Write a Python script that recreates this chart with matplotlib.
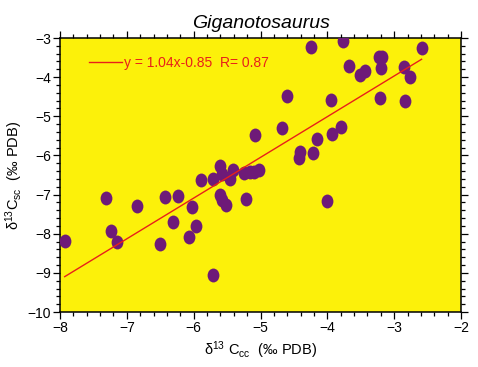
import numpy as np
import matplotlib
matplotlib.use('Agg')
import matplotlib.pyplot as plt
from matplotlib.path import Path
from matplotlib.transforms import Affine2D
from matplotlib.ticker import MultipleLocator

plt.rcParams['font.family'] = ['Liberation Sans', 'DejaVu Sans']
plt.rcParams['mathtext.fontset'] = 'custom'
plt.rcParams['mathtext.rm'] = 'Liberation Sans'
plt.rcParams['mathtext.it'] = 'Liberation Sans:italic'

# d13C of carbonate (x) vs structural carbonate (y)
d13c_cc = [-7.93, -7.31, -7.24, -7.14, -6.85, -6.50, -6.43, -6.31, -6.24, -6.07,
           -6.03, -5.97, -5.89, -5.71, -5.71, -5.61, -5.57, -5.61, -5.58, -5.52,
           -5.46, -5.41, -5.24, -5.21, -5.16, -5.10, -5.02, -5.08, -4.68, -4.61,
           -4.43, -4.41, -4.25, -4.22, -4.16, -4.01, -3.95, -3.93, -3.80, -3.76,
           -3.68, -3.51, -3.44, -3.23, -3.20, -3.21, -3.18, -2.86, -2.84, -2.76,
           -2.59]
d13c_sc = [-8.18, -7.10, -7.92, -8.20, -7.28, -8.26, -7.06, -7.69, -7.04, -8.09,
           -7.31, -7.80, -6.63, -9.05, -6.61, -6.26, -6.47, -7.01, -7.14, -7.27,
           -6.61, -6.37, -6.44, -7.12, -6.42, -6.42, -6.37, -5.48, -5.31, -4.48,
           -6.07, -5.92, -3.22, -5.93, -5.59, -7.16, -4.58, -5.45, -5.27, -3.07,
           -3.71, -3.95, -3.84, -3.48, -3.76, -4.53, -3.48, -3.73, -4.60, -4.00,
           -3.25]
slope = 1.04
intercept = -0.85
r_value = 0.87

x = np.array(d13c_cc)
y = np.array(d13c_sc)

fig = plt.figure(figsize=(4.78, 3.67), dpi=100)
ax = fig.add_axes([60/478, 55/367, 401/478, 274/367])
ax.set_facecolor('#FCF10A')

# slightly tall elliptical marker
ell = Path.unit_circle().transformed(Affine2D().scale(0.85, 1.0))
ax.scatter(x, y, marker=ell, s=100, color='#6E1A78', linewidths=0, zorder=3)

xl = np.array([x.min(), x.max()])
ax.plot(xl, slope * xl + intercept, color='#E8201A', lw=1.0, zorder=4,
        label='y = %.2fx%.2f  R= %.2f' % (slope, intercept, r_value))

leg = ax.legend(loc='upper left', frameon=False, fontsize=10, labelcolor='#E8201A',
                handlelength=2.4, handletextpad=0.1, borderaxespad=0.0,
                bbox_to_anchor=(0.058, 0.955))

ax.set_xlim(-8, -2)
ax.set_ylim(-10, -3)
ax.xaxis.set_major_locator(MultipleLocator(1))
ax.xaxis.set_minor_locator(MultipleLocator(0.2))
ax.yaxis.set_major_locator(MultipleLocator(1))
ax.yaxis.set_minor_locator(MultipleLocator(0.2))
ax.tick_params(which='both', direction='out', top=True, right=True, labelsize=10,
               width=0.9, pad=1.5)
ax.tick_params(which='major', length=5)
ax.tick_params(which='minor', length=3)
for s in ax.spines.values():
    s.set_linewidth(1.1)

ax.set_title('Giganotosaurus', fontsize=14, style='italic', pad=7)
ax.set_xlabel('δ$^{13}$ C$_{\\mathrm{cc}}$  (‰ PDB)', fontsize=10.5, labelpad=3)
ax.set_ylabel('δ$^{13}$C$_{\\mathrm{sc}}$  (‰ PDB)', fontsize=10.5, labelpad=2)

fig.savefig('out.png', dpi=100)
